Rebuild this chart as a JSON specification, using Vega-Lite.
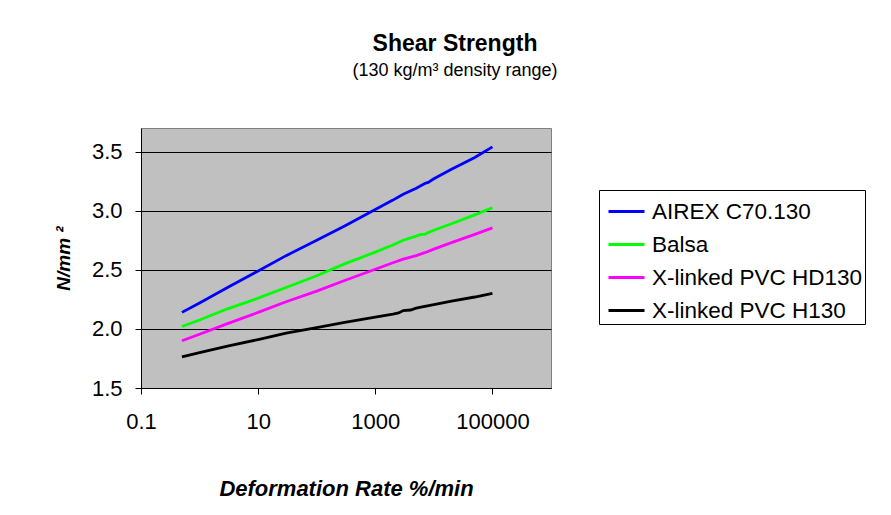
{
  "$schema": "https://vega.github.io/schema/vega-lite/v6.json",
  "width": 410,
  "height": 260,
  "autosize": {"type": "none"},
  "padding": {"left": 141, "top": 128, "right": 340, "bottom": 127},
  "background": "white",
  "title": {
    "text": "Shear Strength",
    "subtitle": "(130 kg/m³ density range)",
    "anchor": "middle",
    "frame": "group",
    "dx": 109,
    "offset": 48,
    "font": "Liberation Sans",
    "fontSize": 23,
    "fontWeight": "bold",
    "color": "black",
    "subtitleFont": "Liberation Sans",
    "subtitleFontSize": 18,
    "subtitleColor": "black",
    "subtitlePadding": 6
  },
  "data": {
    "values": [
      {"material": "AIREX C70.130", "rate": 0.5, "strength": 2.14},
      {"material": "AIREX C70.130", "rate": 1, "strength": 2.22},
      {"material": "AIREX C70.130", "rate": 3, "strength": 2.35},
      {"material": "AIREX C70.130", "rate": 10, "strength": 2.49},
      {"material": "AIREX C70.130", "rate": 30, "strength": 2.62},
      {"material": "AIREX C70.130", "rate": 100, "strength": 2.75},
      {"material": "AIREX C70.130", "rate": 300, "strength": 2.87},
      {"material": "AIREX C70.130", "rate": 1000, "strength": 3.01},
      {"material": "AIREX C70.130", "rate": 2000, "strength": 3.09},
      {"material": "AIREX C70.130", "rate": 3000, "strength": 3.14},
      {"material": "AIREX C70.130", "rate": 5000, "strength": 3.19},
      {"material": "AIREX C70.130", "rate": 7000, "strength": 3.23},
      {"material": "AIREX C70.130", "rate": 8000, "strength": 3.24},
      {"material": "AIREX C70.130", "rate": 10000, "strength": 3.27},
      {"material": "AIREX C70.130", "rate": 20000, "strength": 3.35},
      {"material": "AIREX C70.130", "rate": 50000, "strength": 3.45},
      {"material": "AIREX C70.130", "rate": 100000, "strength": 3.54},
      {"material": "Balsa", "rate": 0.5, "strength": 2.02},
      {"material": "Balsa", "rate": 1, "strength": 2.075},
      {"material": "Balsa", "rate": 3, "strength": 2.17},
      {"material": "Balsa", "rate": 10, "strength": 2.26},
      {"material": "Balsa", "rate": 30, "strength": 2.35},
      {"material": "Balsa", "rate": 100, "strength": 2.45},
      {"material": "Balsa", "rate": 300, "strength": 2.55},
      {"material": "Balsa", "rate": 1000, "strength": 2.65},
      {"material": "Balsa", "rate": 2000, "strength": 2.71},
      {"material": "Balsa", "rate": 3000, "strength": 2.75},
      {"material": "Balsa", "rate": 4000, "strength": 2.77},
      {"material": "Balsa", "rate": 5000, "strength": 2.785},
      {"material": "Balsa", "rate": 6000, "strength": 2.8},
      {"material": "Balsa", "rate": 7000, "strength": 2.8},
      {"material": "Balsa", "rate": 8000, "strength": 2.815},
      {"material": "Balsa", "rate": 10000, "strength": 2.835},
      {"material": "Balsa", "rate": 20000, "strength": 2.89},
      {"material": "Balsa", "rate": 50000, "strength": 2.965},
      {"material": "Balsa", "rate": 100000, "strength": 3.025},
      {"material": "X-linked PVC HD130", "rate": 0.5, "strength": 1.9},
      {"material": "X-linked PVC HD130", "rate": 1, "strength": 1.955},
      {"material": "X-linked PVC HD130", "rate": 3, "strength": 2.045},
      {"material": "X-linked PVC HD130", "rate": 10, "strength": 2.14},
      {"material": "X-linked PVC HD130", "rate": 30, "strength": 2.23},
      {"material": "X-linked PVC HD130", "rate": 100, "strength": 2.32},
      {"material": "X-linked PVC HD130", "rate": 300, "strength": 2.41},
      {"material": "X-linked PVC HD130", "rate": 1000, "strength": 2.505},
      {"material": "X-linked PVC HD130", "rate": 2000, "strength": 2.56},
      {"material": "X-linked PVC HD130", "rate": 3000, "strength": 2.59},
      {"material": "X-linked PVC HD130", "rate": 5000, "strength": 2.62},
      {"material": "X-linked PVC HD130", "rate": 7000, "strength": 2.645},
      {"material": "X-linked PVC HD130", "rate": 10000, "strength": 2.675},
      {"material": "X-linked PVC HD130", "rate": 20000, "strength": 2.73},
      {"material": "X-linked PVC HD130", "rate": 50000, "strength": 2.8},
      {"material": "X-linked PVC HD130", "rate": 100000, "strength": 2.855},
      {"material": "X-linked PVC H130", "rate": 0.5, "strength": 1.763},
      {"material": "X-linked PVC H130", "rate": 1, "strength": 1.8},
      {"material": "X-linked PVC H130", "rate": 3, "strength": 1.855},
      {"material": "X-linked PVC H130", "rate": 10, "strength": 1.91},
      {"material": "X-linked PVC H130", "rate": 30, "strength": 1.965},
      {"material": "X-linked PVC H130", "rate": 100, "strength": 2.01},
      {"material": "X-linked PVC H130", "rate": 300, "strength": 2.055},
      {"material": "X-linked PVC H130", "rate": 1000, "strength": 2.1},
      {"material": "X-linked PVC H130", "rate": 2000, "strength": 2.125},
      {"material": "X-linked PVC H130", "rate": 2500, "strength": 2.135},
      {"material": "X-linked PVC H130", "rate": 3000, "strength": 2.155},
      {"material": "X-linked PVC H130", "rate": 4000, "strength": 2.16},
      {"material": "X-linked PVC H130", "rate": 5000, "strength": 2.175},
      {"material": "X-linked PVC H130", "rate": 7000, "strength": 2.19},
      {"material": "X-linked PVC H130", "rate": 10000, "strength": 2.205},
      {"material": "X-linked PVC H130", "rate": 20000, "strength": 2.235},
      {"material": "X-linked PVC H130", "rate": 50000, "strength": 2.27},
      {"material": "X-linked PVC H130", "rate": 100000, "strength": 2.3}
    ]
  },
  "mark": {"type": "line", "strokeWidth": 2.8},
  "encoding": {
    "x": {
      "field": "rate",
      "type": "quantitative",
      "title": "Deformation Rate %/min",
      "scale": {"type": "log", "domain": [0.1, 1000000], "nice": false},
      "axis": {
        "values": [0.1, 10, 1000, 100000],
        "format": "~g",
        "grid": false,
        "labelFlush": false,
        "labelOverlap": false,
        "domainColor": "black",
        "tickColor": "black",
        "tickSize": 6,
        "labelPadding": 17,
        "labelFont": "Liberation Sans",
        "labelFontSize": 22,
        "labelColor": "black",
        "titleFont": "Liberation Sans",
        "titleFontSize": 22,
        "titleFontWeight": "bold",
        "titleFontStyle": "italic",
        "titleColor": "black",
        "titlePadding": 46
      }
    },
    "y": {
      "field": "strength",
      "type": "quantitative",
      "title": "N/mm ²",
      "scale": {"domain": [1.5, 3.7], "nice": false, "zero": false},
      "axis": {
        "values": [1.5, 2, 2.5, 3, 3.5],
        "format": ".1f",
        "grid": true,
        "gridColor": "black",
        "gridOpacity": 1,
        "labelFlush": false,
        "labelOverlap": false,
        "domainColor": "black",
        "tickColor": "black",
        "tickSize": 6,
        "labelPadding": 13,
        "labelFont": "Liberation Sans",
        "labelFontSize": 22,
        "labelColor": "black",
        "titleFont": "Liberation Sans",
        "titleFontSize": 19,
        "titleFontWeight": "bold",
        "titleFontStyle": "italic",
        "titleColor": "black",
        "titlePadding": 18
      }
    },
    "color": {
      "field": "material",
      "type": "nominal",
      "scale": {
        "domain": ["AIREX C70.130", "Balsa", "X-linked PVC HD130", "X-linked PVC H130"],
        "range": ["#0000FF", "#00FF00", "#FF00FF", "#000000"]
      },
      "legend": {
        "orient": "none",
        "legendX": 458,
        "legendY": 62,
        "title": null,
        "symbolType": "stroke",
        "symbolSize": 1296,
        "symbolStrokeWidth": 2.8,
        "symbolOffset": 6,
        "labelFont": "Liberation Sans",
        "labelFontSize": 22.5,
        "labelColor": "black",
        "labelOffset": 6,
        "labelLimit": 400,
        "strokeColor": "black",
        "fillColor": "white",
        "padding": 2,
        "rowPadding": 2
      }
    }
  },
  "config": {
    "view": {"fill": "#C0C0C0", "stroke": "#808080"}
  }
}
